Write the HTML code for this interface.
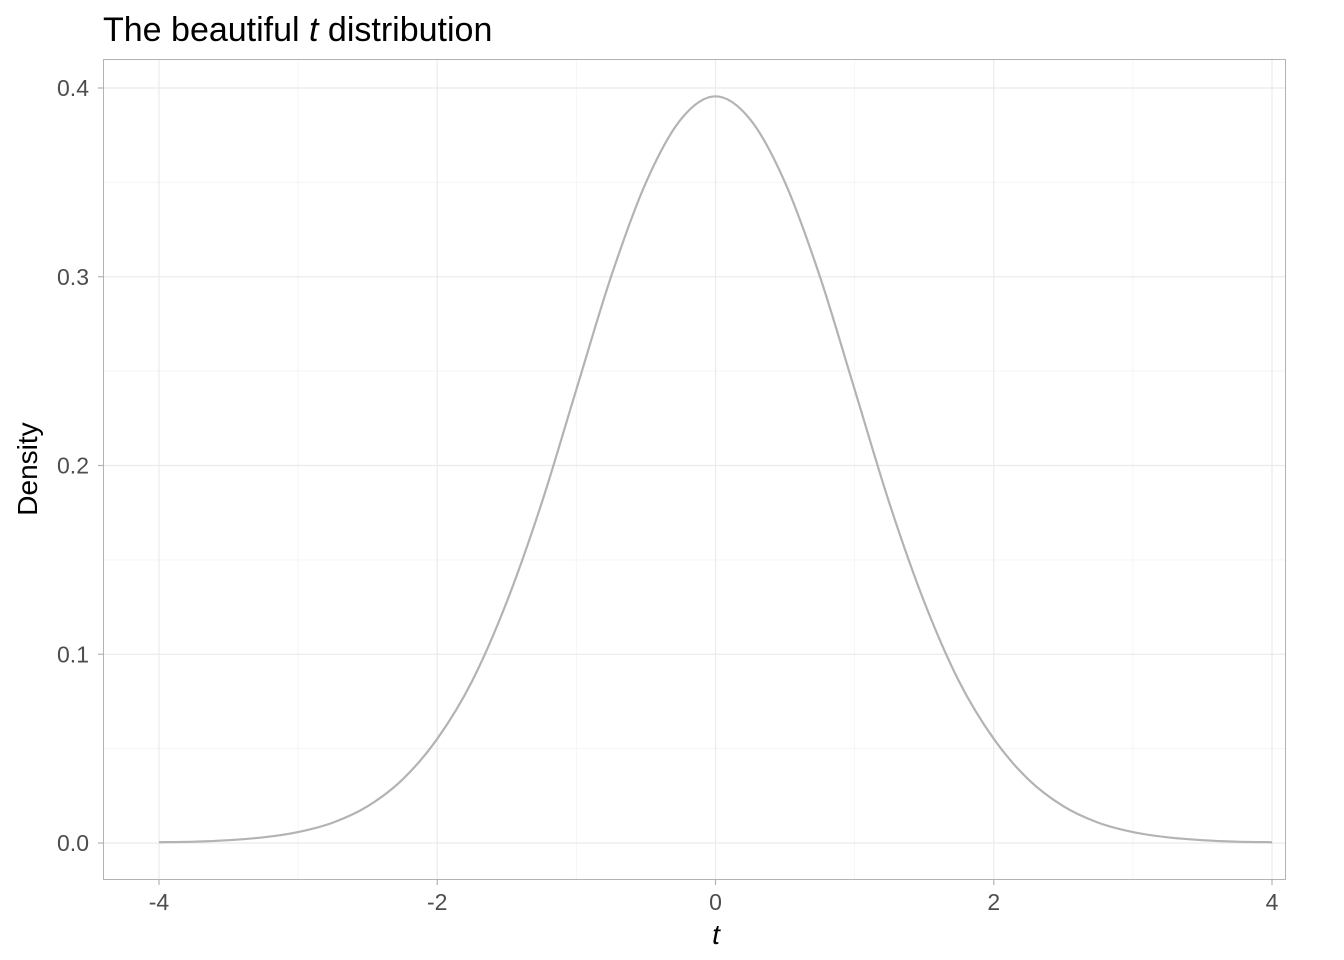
<!DOCTYPE html>
<html><head><meta charset="utf-8"><style>
html,body{margin:0;padding:0;background:#fff;}
svg{display:block;font-family:"Liberation Sans",sans-serif;}
</style></head><body>
<svg id="chart" width="1344" height="960">
<text x="103" y="41" font-size="34" fill="#000">The beautiful <tspan font-style="italic">t</tspan> distribution</text>
<rect x="103.5" y="59.5" width="1182" height="820" fill="#fff" stroke="#b3b3b3" stroke-width="1"/>
<g id="grid"></g>
<g id="axes"></g>
<path id="curve" fill="none" stroke="#b3b3b3" stroke-width="2.2"/>
<text x="716" y="944" font-size="28" font-style="italic" text-anchor="middle" fill="#000">t</text>
<text transform="translate(37,469) rotate(-90)" font-size="28" text-anchor="middle" fill="#000">Density</text>
</svg>
<script>
const xValues = [-4,-3.75,-3.5,-3.25,-3,-2.75,-2.5,-2.25,-2,-1.75,-1.5,-1.25,-1,-0.75,-0.5,-0.25,0,0.25,0.5,0.75,1,1.25,1.5,1.75,2,2.25,2.5,2.75,3,3.25,3.5,3.75,4];
const densityValues = [0.0004,0.0007,0.0015,0.0030,0.0058,0.0108,0.0195,0.0336,0.0552,0.0857,0.1278,0.1800,0.2403,0.3002,0.3499,0.3833,0.3956,0.3833,0.3499,0.3002,0.2403,0.1800,0.1278,0.0857,0.0552,0.0336,0.0195,0.0108,0.0058,0.0030,0.0015,0.0007,0.0004];
const xTicks = [-4,-2,0,2,4];
const xTickLabels = ["-4","-2","0","2","4"];
const xMinor = [-3,-1,1,3];
const yTicks = [0,0.1,0.2,0.3,0.4];
const yTickLabels = ["0.0","0.1","0.2","0.3","0.4"];
const yMinor = [0.05,0.15,0.25,0.35];

const xs = v => 159 + (v + 4) * (1272 - 159) / 8;
const ys = v => 843 - v * (843 - 88) / 0.4;
const NS = "http://www.w3.org/2000/svg";
const grid = document.getElementById('grid');
const axes = document.getElementById('axes');
function line(p, x1, y1, x2, y2, col, w) {
  const l = document.createElementNS(NS, 'line');
  l.setAttribute('x1', x1); l.setAttribute('y1', y1); l.setAttribute('x2', x2); l.setAttribute('y2', y2);
  l.setAttribute('stroke', col); l.setAttribute('stroke-width', w);
  p.appendChild(l); return l;
}
xMinor.forEach(v => { const l = line(grid, xs(v), 60, xs(v), 879, '#f5f5f5', 1);
  
   });
yMinor.forEach(v => { const l = line(grid, 104, ys(v), 1285, ys(v), '#f5f5f5', 1);
  
   });
xTicks.forEach((v, i) => {
  const g = line(grid, xs(v), 60, xs(v), 879, '#ebebeb', 1.2);
  
  
  const t = line(axes, xs(v), 880, xs(v), 885, '#b3b3b3', 1.2);
  
  
  const tx = document.createElementNS(NS, 'text');
  tx.setAttribute('x', xs(v)); tx.setAttribute('y', 910); tx.setAttribute('font-size', '23');
  tx.setAttribute('text-anchor', 'middle'); tx.setAttribute('fill', '#4d4d4d');
  tx.textContent = xTickLabels[i];
  
  
  axes.appendChild(tx);
});
yTicks.forEach((v, i) => {
  const g = line(grid, 104, ys(v), 1285, ys(v), '#ebebeb', 1.2);
  
  
  const t = line(axes, 98, ys(v), 103, ys(v), '#b3b3b3', 1.2);
  
  
  const tx = document.createElementNS(NS, 'text');
  tx.setAttribute('x', 89); tx.setAttribute('y', ys(v) + 8); tx.setAttribute('font-size', '23');
  tx.setAttribute('text-anchor', 'end'); tx.setAttribute('fill', '#4d4d4d');
  tx.textContent = yTickLabels[i];
  
  
  axes.appendChild(tx);
});
const pts = xValues.map((x, i) => [xs(x), ys(densityValues[i])]);
let d = 'M' + pts[0][0] + ',' + pts[0][1];
for (let i = 0; i < pts.length - 1; i++) {
  const p0 = pts[Math.max(0, i - 1)], p1 = pts[i], p2 = pts[i + 1], p3 = pts[Math.min(pts.length - 1, i + 2)];
  const c1 = [p1[0] + (p2[0] - p0[0]) / 6, p1[1] + (p2[1] - p0[1]) / 6];
  const c2 = [p2[0] - (p3[0] - p1[0]) / 6, p2[1] - (p3[1] - p1[1]) / 6];
  d += ' C' + c1 + ' ' + c2 + ' ' + p2;
}
document.getElementById('curve').setAttribute('d', d);
</script>
</body></html>
